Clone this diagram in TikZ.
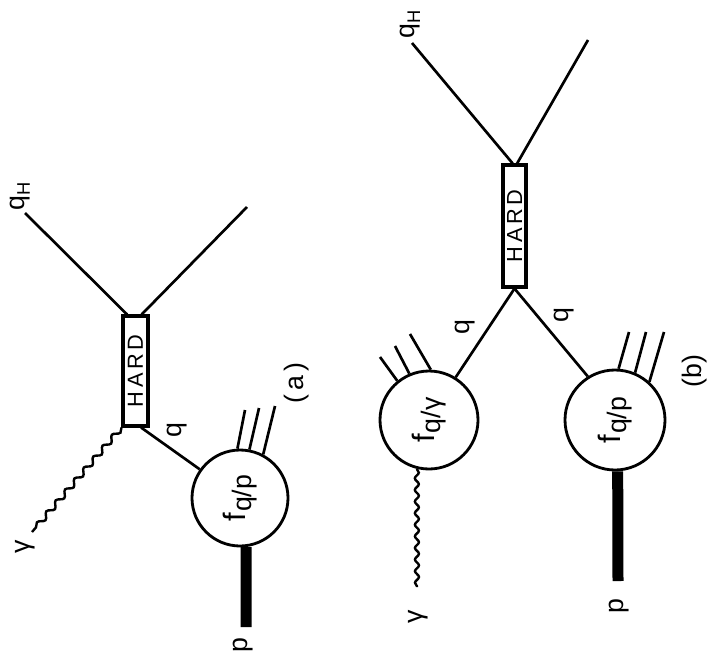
\documentclass[tikz,border=0pt]{standalone}
\usepackage{fontspec}
\setmainfont{Liberation Sans}
\usetikzlibrary{decorations.pathmorphing,calc}

% parton density label: f with a lowered subscript
\newcommand\distf[1]{{\fontsize{22}{22}\selectfont f}\kern0.6pt\raisebox{-4.5pt}{\fontsize{19}{19}\selectfont #1}}
\newcommand\hardtext{\rotatebox{90}{H\hspace{2.5pt}A\hspace{2.5pt}R\hspace{2.5pt}D}}

\begin{document}
\begin{tikzpicture}[x=0.25mm,y=-0.25mm,
  leg/.style={line width=1.9pt},
  blob/.style={circle,draw,line width=2pt,inner sep=0pt,minimum size=24.5mm},
  hardbox/.style={draw,line width=2.2pt,inner sep=0pt,font=\fontsize{15.5}{15.5}\selectfont},
  photon/.style={line width=1.7pt,decorate,decoration={snake,amplitude=0.65mm,segment length=3.6mm}},
  hadron/.style={line width=2.75mm},
  lbl/.style={rotate=90,inner sep=0pt,font=\fontsize{19}{19}\selectfont},
]
\useasboundingbox (0,0) rectangle (708,665);
\fill[white] (0,0) rectangle (708,665);

% ---------------- (a): direct photon ----------------
\node[hardbox,minimum width=6.25mm,minimum height=27.5mm] (hardA) at (135.5,371) {\hardtext};
\node[blob,minimum size=24mm] (circA) at (240,498) {\rotatebox{90}{\distf{q/p}}};

\coordinate (qHA) at (25,213);
\coordinate (outA) at (247,207);
\coordinate (gamA) at (32,532);
\coordinate (pA) at (246,627);
\coordinate (xA1) at (245,410);
\coordinate (xA2) at (259,408);
\coordinate (xA3) at (275,406);

\draw[leg] (qHA) -- ($(hardA.north west)!0.2!(hardA.north east)$);
\draw[leg] (outA) -- ($(hardA.north west)!0.72!(hardA.north east)$);
\draw[photon] (hardA.south west) -- (gamA);
\draw[leg] ($(hardA.south west)!0.7!(hardA.south east)$) -- (circA);
\draw[hadron] (circA.-83) -- (pA);
\draw[leg] (circA.93) -- (xA1);
\draw[leg] (circA.79) -- (xA2);
\draw[leg] (circA.62) -- (xA3);

\node[lbl] (lqHA) at (20,196) {q\raisebox{-4pt}{\fontsize{13}{13}\selectfont H}};
\node[lbl] (lgamA) at (25,547) {γ};
\node[lbl] (lqA) at (177,430) {q};
\node[lbl] (lpA) at (243,645) {p};
\node[lbl] (tagA) at (297,383) {(\,a\,)};

% ---------------- (b): resolved photon ----------------
\node[hardbox,minimum width=5.75mm,minimum height=30.5mm] (hardB) at (514.5,226) {\hardtext};
\node[blob] (circB1) at (429,420) {\rotatebox{90}{\distf{q/γ}}};
\node[blob,minimum size=25mm] (circB2) at (615,420) {\rotatebox{90}{\distf{q/p}}};

\coordinate (qHB) at (412,43);
\coordinate (outB) at (588,40);
\coordinate (gamB) at (417,587);
\coordinate (pB) at (618,581);
\coordinate (xB1) at (380,357);
\coordinate (xB2) at (395,346);
\coordinate (xB3) at (410,334);
\coordinate (xB4) at (629,332);
\coordinate (xB5) at (646,332);
\coordinate (xB6) at (664,332);

\draw[leg] (qHB) -- ($(hardB.north west)!0.43!(hardB.north east)$);
\draw[leg] (outB) -- ($(hardB.north west)!0.6!(hardB.north east)$);
\draw[leg] (hardB.south) -- (circB1.58);
\draw[leg] (hardB.south) -- (circB2.122);
\draw[photon,decoration={amplitude=0.5mm,segment length=2.9mm}] (circB1.256) -- (gamB);
\draw[hadron] (circB2.-87) -- (pB);
\draw[leg] (circB1.129) -- (xB1);
\draw[leg] (circB1.113) -- (xB2);
\draw[leg] (circB1.88) -- (xB3);
\draw[leg] (circB2.86) -- (xB4);
\draw[leg] (circB2.67) -- (xB5);
\draw[leg] (circB2.48) -- (xB6);

\node[lbl] (lqHB) at (410,24) {q\raisebox{-4pt}{\fontsize{13}{13}\selectfont H}};
\node[lbl] (lgamB) at (418,617) {γ};
\node[lbl] (lqB1) at (465,327) {q};
\node[lbl] (lqB2) at (564,315) {q};
\node[lbl] (lpB) at (619,606) {p};
\node[lbl] (tagB) at (695,371) {(b)};
\end{tikzpicture}
\end{document}
